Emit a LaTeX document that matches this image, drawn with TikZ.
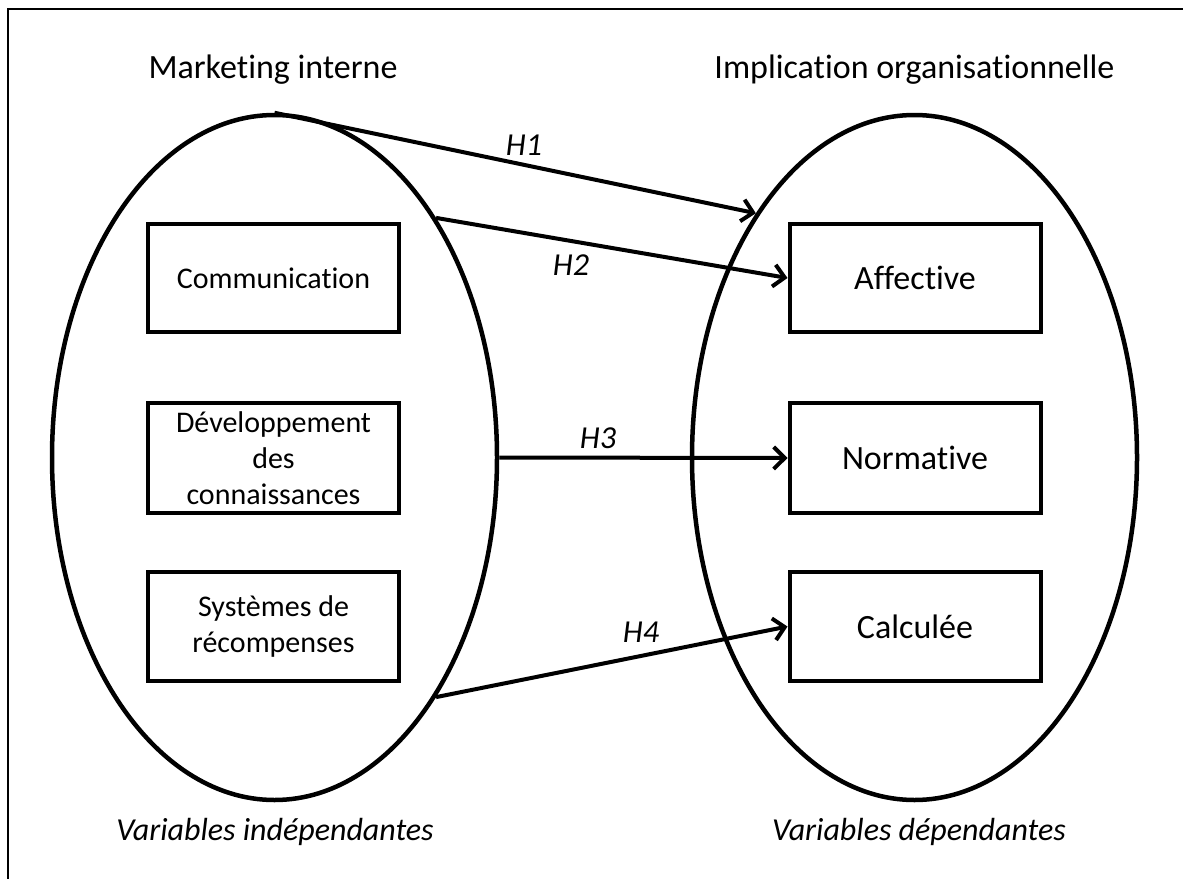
\documentclass[tikz,border=0pt]{standalone}
\usepackage{fontspec}
\setmainfont[Ligatures={NoCommon}]{Carlito}
\usetikzlibrary{shapes.geometric,arrows.meta}
\tikzset{
  bigell/.style={ellipse, draw, line width=4.5pt, minimum width=445pt, minimum height=685pt, inner sep=0pt},
  varbox/.style={draw, line width=4pt, minimum width=251pt, minimum height=108pt, inner sep=0pt, align=center},
  lefttxt/.style={font=\fontsize{30}{36}\selectfont},
  righttxt/.style={font=\fontsize{34}{40}\selectfont},
  title/.style={font=\fontsize{34}{40}\selectfont, anchor=base},
  hlab/.style={font=\fontsize{32}{38}\selectfont\itshape},
  varlab/.style={font=\fontsize{32}{38}\selectfont\itshape, anchor=base},
  hyp/.style={line width=4pt, -{Straight Barb[length=11pt,width=22pt,line width=4pt]}}
}
\begin{document}
\begin{tikzpicture}[x=1pt,y=-1pt]
\useasboundingbox (0,0) rectangle (1183,878);
\begin{scope}
\clip (0,0) rectangle (1183,878);
\draw[line width=2.5pt] (8,9) rectangle (1195,895);
\end{scope}
% titles
\node[title] (t1) at (273,78) {Marketing interne};
\node[title] (t2) at (914.5,78) {Implication organisationnelle};
% ellipses
\node[bigell] (le) at (274.5,457.5) {};
\node[bigell] (re) at (914.5,457.5) {};
% left boxes
\node[varbox, lefttxt] (com) at (273.5,278) {Communication};
\node[varbox, lefttxt, minimum height=110pt] (dev) at (273.5,458) {Développement\\des\\connaissances};
\node[varbox, lefttxt, minimum height=109pt] (sys) at (273.5,626.5) {Systèmes de\\récompenses};
% right boxes
\node[varbox, righttxt] (aff) at (915,278) {Affective};
\node[varbox, righttxt, minimum height=110pt] (nor) at (915,458) {Normative};
\node[varbox, righttxt, minimum height=109pt] (cal) at (915,626.5) {Calculée};
% arrows
\draw[hyp] (le.north) -- (re.123);
\draw[hyp] (le.56.4) -- (aff.west);
\draw[hyp] (le.east) -- (nor.west);
\draw[hyp] (le.-56.3) -- (cal.west);
% labels
\node[hlab] (h1) at (524,145) {H1};
\node[hlab] (h2) at (571,265) {H2};
\node[hlab] (h3) at (598,438) {H3};
\node[hlab] (h4) at (641,632) {H4};
% bottom labels
\node[varlab] (v1) at (275,840) {Variables indépendantes};
\node[varlab] (v2) at (919,840) {Variables dépendantes};
\end{tikzpicture}
\end{document}
